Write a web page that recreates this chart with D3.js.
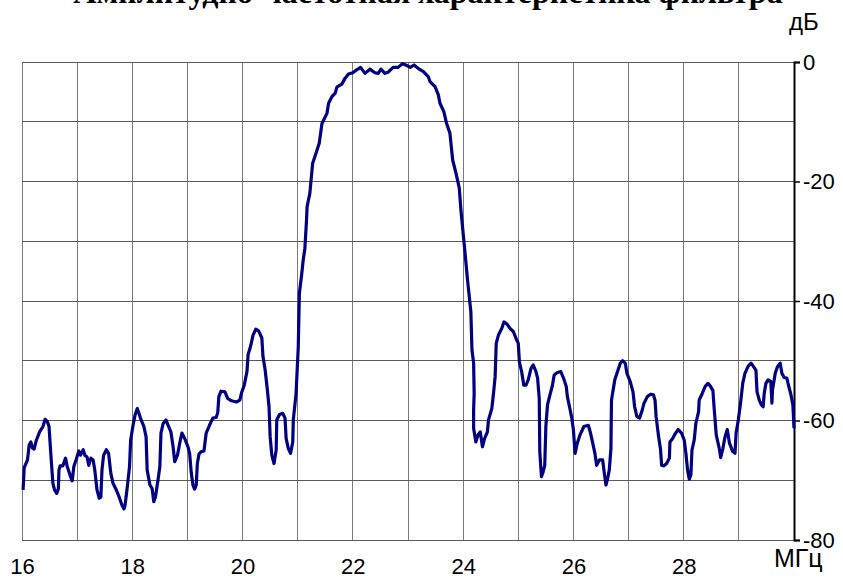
<!DOCTYPE html>
<html>
<head>
<meta charset="utf-8">
<script src="https://cdn.jsdelivr.net/npm/d3@7"></script>
<style>
  body { margin: 0; background: #fff; }
  svg text { font-family: "Liberation Sans", Arial, sans-serif; }
</style>
</head>
<body>
<div id="chart"></div>
<script>
// Frequency response
const freq = [
  16.02, 16.04, 16.10, 16.13, 16.16, 16.19, 16.22, 16.26, 16.32, 16.38, 16.42, 16.46, 16.49, 16.51, 16.53, 16.56,
  16.59, 16.63, 16.66, 16.67, 16.69, 16.74, 16.79, 16.82, 16.87, 16.91, 16.94, 16.98, 17.03, 17.06, 17.11, 17.14,
  17.18, 17.21, 17.25, 17.29, 17.32, 17.36, 17.40, 17.43, 17.45, 17.48, 17.53, 17.57, 17.61, 17.65, 17.71, 17.77,
  17.81, 17.85, 17.87, 17.91, 17.95, 17.97, 18.01, 18.05, 18.09, 18.12, 18.16, 18.21, 18.25, 18.27, 18.32, 18.36,
  18.39, 18.42, 18.47, 18.50, 18.52, 18.56, 18.61, 18.65, 18.70, 18.74, 18.77, 18.82, 18.86, 18.90, 18.95, 19.01,
  19.04, 19.07, 19.10, 19.13, 19.16, 19.18, 19.21, 19.25, 19.30, 19.34, 19.40, 19.46, 19.52, 19.55, 19.57, 19.61,
  19.68, 19.73, 19.80, 19.89, 19.95, 19.98, 20.03, 20.08, 20.10, 20.15, 20.19, 20.24, 20.29, 20.35, 20.37, 20.41,
  20.45, 20.48, 20.50, 20.53, 20.57, 20.61, 20.62, 20.67, 20.73, 20.77, 20.79, 20.83, 20.87, 20.91, 20.92, 20.97,
  21.01, 21.03, 21.07, 21.10, 21.13, 21.16, 21.17, 21.22, 21.27, 21.33, 21.39, 21.44, 21.53, 21.56, 21.62, 21.68,
  21.71, 21.80, 21.86, 21.92, 22.00, 22.07, 22.14, 22.22, 22.31, 22.40, 22.46, 22.51, 22.58, 22.64, 22.73, 22.82,
  22.90, 22.96, 23.04, 23.11, 23.19, 23.28, 23.37, 23.40, 23.49, 23.55, 23.58, 23.65, 23.70, 23.76, 23.81, 23.87,
  23.93, 23.96, 24.00, 24.03, 24.08, 24.14, 24.16, 24.19, 24.20, 24.19, 24.19, 24.23, 24.27, 24.31, 24.35, 24.39,
  24.44, 24.46, 24.52, 24.55, 24.58, 24.60, 24.64, 24.70, 24.74, 24.80, 24.85, 24.91, 24.97, 25.00, 25.02, 25.06,
  25.10, 25.14, 25.18, 25.23, 25.27, 25.32, 25.35, 25.38, 25.39, 25.42, 25.45, 25.48, 25.50, 25.53, 25.58, 25.62,
  25.65, 25.70, 25.77, 25.82, 25.87, 25.89, 25.94, 25.97, 26.00, 26.03, 26.07, 26.12, 26.19, 26.27, 26.31, 26.35,
  26.39, 26.42, 26.47, 26.53, 26.56, 26.59, 26.62, 26.65, 26.68, 26.69, 26.75, 26.80, 26.85, 26.89, 26.94, 26.97,
  27.03, 27.08, 27.11, 27.15, 27.20, 27.24, 27.28, 27.34, 27.40, 27.45, 27.48, 27.50, 27.54, 27.58, 27.60, 27.64,
  27.69, 27.74, 27.75, 27.80, 27.84, 27.90, 27.96, 28.01, 28.04, 28.07, 28.10, 28.13, 28.15, 28.19, 28.22, 28.27,
  28.28, 28.33, 28.39, 28.44, 28.48, 28.53, 28.55, 28.59, 28.65, 28.67, 28.71, 28.75, 28.79, 28.83, 28.89, 28.93,
  28.95, 28.99, 29.03, 29.07, 29.11, 29.17, 29.22, 29.26, 29.31, 29.33, 29.37, 29.41, 29.44, 29.46, 29.49, 29.53,
  29.58, 29.60, 29.61, 29.66, 29.70, 29.75, 29.78, 29.82, 29.87, 29.90, 29.94, 29.98, 30.00
];
const level = [
  -71.6, -67.9, -66.6, -64.1, -63.6, -64.6, -64.8, -63.3, -61.9, -61.0, -59.8, -60.2, -61.0, -63.8, -66.6, -70.5,
  -71.6, -72.2, -71.4, -68.3, -67.6, -67.6, -66.3, -67.7, -69.1, -70.1, -67.7, -66.6, -65.1, -65.8, -64.9, -65.8,
  -66.1, -67.5, -66.3, -66.6, -68.3, -71.6, -73.0, -72.8, -68.3, -65.8, -64.9, -65.5, -68.8, -70.5, -71.6, -73.0,
  -74.1, -74.8, -74.1, -71.1, -67.7, -63.3, -61.0, -59.1, -58.0, -58.8, -59.9, -61.0, -62.7, -68.3, -70.8, -71.4,
  -73.6, -72.8, -69.7, -67.7, -62.1, -60.5, -59.9, -60.8, -61.9, -64.4, -66.9, -65.8, -63.8, -62.1, -63.0, -64.4,
  -65.5, -68.8, -70.8, -71.5, -70.8, -67.2, -65.6, -65.2, -65.1, -62.1, -60.8, -59.6, -59.5, -58.7, -56.0, -55.1,
  -55.2, -56.3, -56.7, -56.9, -56.6, -55.4, -54.1, -51.8, -49.0, -47.4, -45.7, -44.7, -45.0, -46.2, -49.3, -51.6,
  -54.9, -57.7, -62.7, -65.8, -67.2, -64.9, -59.9, -59.0, -58.8, -59.6, -63.0, -64.7, -65.5, -63.6, -59.9, -55.5,
  -47.7, -38.7, -35.7, -33.1, -31.2, -26.4, -24.2, -22.0, -17.0, -15.3, -13.6, -10.3, -8.6, -6.9, -5.8, -5.2,
  -4.2, -3.7, -2.7, -2.0, -1.8, -1.3, -0.9, -1.9, -1.2, -1.8, -1.9, -1.2, -1.9, -1.7, -0.9, -0.9,
  -0.3, -0.5, -0.9, -0.5, -1.1, -1.6, -2.5, -3.3, -4.1, -5.5, -6.9, -8.3, -10.3, -11.9, -16.4, -18.6,
  -21.1, -24.8, -28.7, -31.5, -36.5, -41.8, -48.2, -50.4, -55.5, -58.2, -61.3, -63.6, -62.4, -61.9, -64.4, -63.0,
  -61.9, -59.9, -58.0, -55.5, -52.7, -47.1, -45.7, -44.6, -43.5, -43.9, -44.6, -45.1, -46.5, -47.1, -50.2, -51.8,
  -54.1, -54.1, -53.2, -51.3, -50.7, -51.8, -52.9, -56.3, -65.2, -69.4, -68.6, -67.5, -61.0, -57.4, -55.5, -54.1,
  -52.4, -52.0, -51.8, -52.9, -54.3, -56.0, -58.2, -59.6, -61.6, -65.5, -63.8, -62.4, -61.0, -60.8, -62.1, -63.8,
  -65.5, -67.5, -66.6, -66.6, -68.8, -70.8, -69.7, -68.3, -64.7, -56.6, -53.2, -51.8, -50.4, -50.0, -50.4, -52.1,
  -53.5, -55.2, -57.7, -59.3, -59.6, -58.5, -57.1, -56.0, -55.6, -55.7, -56.6, -59.4, -62.4, -64.9, -67.5, -67.6,
  -67.2, -66.3, -63.6, -63.0, -62.3, -61.5, -62.1, -63.3, -65.5, -68.3, -69.8, -69.1, -64.9, -63.3, -60.5, -58.5,
  -56.6, -55.6, -54.3, -53.8, -54.2, -55.0, -57.7, -62.4, -64.9, -66.2, -64.7, -62.7, -61.5, -63.8, -65.2, -65.5,
  -62.1, -59.9, -57.1, -53.8, -52.1, -50.9, -50.4, -50.9, -51.6, -55.2, -56.6, -57.4, -57.7, -55.5, -53.8, -53.2,
  -53.5, -57.1, -54.9, -52.1, -51.0, -50.4, -52.1, -52.8, -52.9, -54.1, -55.5, -57.4, -61.3
];

// Axis ticks
const gridX = [16, 17, 18, 19, 20, 21, 22, 23, 24, 25, 26, 27, 28, 29, 30];
const gridY = [0, -10, -20, -30, -40, -50, -60, -70, -80];
const xLabels = [16, 18, 20, 22, 24, 26, 28];
const yLabels = [0, -20, -40, -60, -80];

const W = 843, H = 578;
const plot = {left: 22, right: 794, top: 62, bottom: 540};

const svg = d3.select("#chart")
    .append("svg")
    .attr("width", W)
    .attr("height", H);

const x = d3.scaleLinear().domain([16, 30]).range([plot.left, plot.right]);
const y = d3.scaleLinear().domain([0, -80]).range([plot.top, plot.bottom]);

// Grid
svg.append("g")
    .selectAll("line")
    .data(gridX)
    .join("line")
    .attr("x1", d => x(d)).attr("x2", d => x(d))
    .attr("y1", plot.top).attr("y2", plot.bottom)
    .attr("stroke", "#7a7a7a")
    .attr("stroke-width", 1)
    .attr("shape-rendering", "crispEdges");

svg.append("g")
    .selectAll("line")
    .data(gridY)
    .join("line")
    .attr("x1", plot.left).attr("x2", plot.right)
    .attr("y1", d => y(d)).attr("y2", d => y(d))
    .attr("stroke", "#5a5a5a")
    .attr("stroke-width", 1)
    .attr("shape-rendering", "crispEdges");

// Right axis
const yAxis = svg.append("g")
    .attr("transform", `translate(${plot.right},0)`)
    .call(d3.axisRight(y).tickValues(yLabels).tickSize(6).tickPadding(3)
        .tickFormat(d => d === 0 ? "0" : "-" + Math.abs(d)));
yAxis.select(".domain").attr("stroke", "#000").attr("stroke-width", 2);
yAxis.selectAll(".tick line").attr("stroke", "#000").attr("stroke-width", 1.5);
yAxis.selectAll("text")
    .attr("font-family", "Liberation Sans, Arial, sans-serif")
    .attr("font-size", 22)
    .attr("fill", "#000");

// Bottom labels
const xAxis = svg.append("g")
    .attr("transform", `translate(0,${plot.bottom})`)
    .call(d3.axisBottom(x).tickValues(xLabels).tickSize(0).tickPadding(18));
xAxis.select(".domain").remove();
xAxis.selectAll("text")
    .attr("font-family", "Liberation Sans, Arial, sans-serif")
    .attr("font-size", 22)
    .attr("fill", "#000");

// Units
svg.append("text")
    .attr("x", 789).attr("y", 30)
    .attr("font-size", 24)
    .text("дБ");
svg.append("text")
    .attr("x", 774).attr("y", 567)
    .attr("font-size", 25)
    .text("МГц");

// Title (cut by the top edge, as in the source picture)
svg.append("text")
    .attr("x", 428).attr("y", 3)
    .attr("text-anchor", "middle")
    .style("font-family", "Liberation Serif, Times New Roman, serif")
    .style("font-weight", "bold")
    .attr("font-size", 32)
    .text("Амплитудно-частотная характеристика фильтра");

// Curve
const line = d3.line()
    .x((d, i) => x(freq[i]))
    .y(d => y(d));

svg.append("path")
    .datum(level)
    .attr("d", line)
    .attr("fill", "none")
    .attr("stroke", "#000080")
    .attr("stroke-width", 3.2)
    .attr("stroke-linejoin", "round");
</script>
</body>
</html>
